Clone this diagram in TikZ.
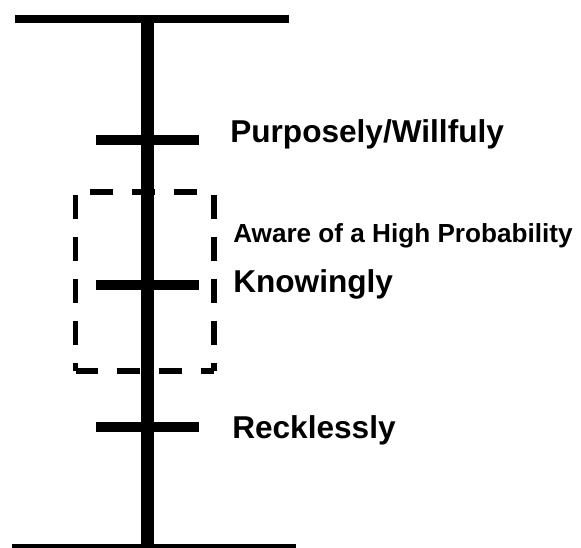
\documentclass[tikz,border=0pt]{standalone}
\usepackage{fontspec}
\setmainfont{Liberation Sans}
\begin{document}
\begin{tikzpicture}[x=0.75pt,y=-0.75pt,
  bar/.style={line width=6pt},
  axis/.style={line width=9.75pt},
  tick/.style={line width=7pt},
  box/.style={line width=4.2pt},
  lbl/.style={anchor=base west,inner sep=0pt,font=\fontsize{23.7}{28}\selectfont\bfseries},
  smalllbl/.style={anchor=base west,inner sep=0pt,font=\fontsize{19.6}{24}\selectfont\bfseries}]
\useasboundingbox (0,0) rectangle (581,548);
% frame lines
\coordinate (tl) at (15,19);
\coordinate (tr) at (289,19);
\coordinate (bl) at (12,548);
\coordinate (br) at (296,548);
\coordinate (vt) at (147,19);
\coordinate (vb) at (147,548);
\draw[bar] (tl) -- (tr);
\draw[bar] (bl) -- (br);
\draw[axis] (vt) -- (vb);
% ticks
\coordinate (p1) at (96,140);  \coordinate (p2) at (199,140);
\coordinate (k1) at (96,285);  \coordinate (k2) at (199,285);
\coordinate (r1) at (96,427);  \coordinate (r2) at (199,427);
\draw[tick] (p1) -- (p2);
\draw[tick] (k1) -- (k2);
\draw[tick] (r1) -- (r2);
% dashed box
\coordinate (b1) at (75.5,192);
\coordinate (b2) at (214,192);
\coordinate (b3) at (214,371);
\coordinate (b4) at (75.5,371);
\draw[box,dash pattern=on 18pt off 13.5pt,dash phase=29.25pt] (b1) -- (b4);
\draw[box,dash pattern=on 18pt off 13.5pt,dash phase=29.25pt] (b2) -- (b3);
\draw[box,dash pattern=on 17.5pt off 13.8pt,dash phase=20.4pt] (b1) -- (b2);
\draw[box,dash pattern=on 17.25pt off 14.25pt,dash phase=0.75pt] (b4) -- (b3);
% labels
\node[lbl] (purp) at (230,143) {Purposely/Willfuly};
\node[smalllbl] (aware) at (233,243) {Aware of a High Probability};
\node[lbl] (know) at (233,293) {Knowingly};
\node[lbl] (reck) at (232,438) {Recklessly};
\end{tikzpicture}
\end{document}
